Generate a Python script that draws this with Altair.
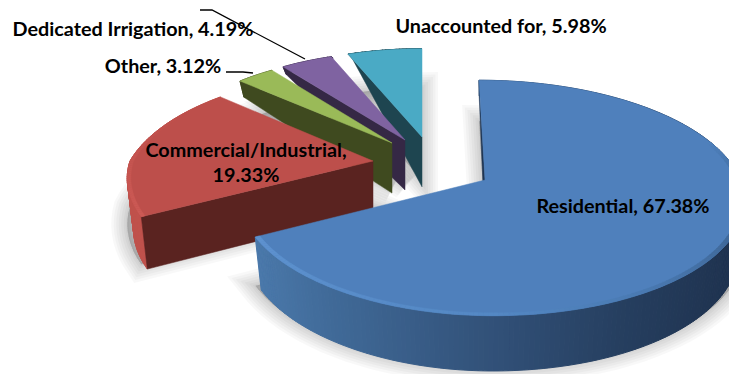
import numpy as np
import pandas as pd
import altair as alt

# Water use by customer class, percent of total
CATEGORIES = ["Residential", "Commercial/Industrial", "Other", "Dedicated Irrigation", "Unaccounted for"]
SHARES = [67.38, 19.33, 3.12, 4.19, 5.98]

TOP_FILL = ["#4f80bc", "#bd4f4b", "#9aba58", "#7f63a1", "#4aaac5"]
CUT_FILL = ["#1f3552", "#5a2320", "#3f4a1f", "#352845", "#1e4550"]
WALL_FILL = ["#2f4d73", "#c0524c", "#3f4a1f", "#352845", "#1e4550"]

# Exploded position of each wedge's point on the canvas, and its relative size
APEX = [(485, 180), (373, 161), (392, 143), (405, 140), (422, 137)]
SIZE = [1.0, 0.98, 0.885, 0.89, 0.885]
# Horizontal stretch left and right of each wedge's point
STRETCH_LEFT = [0.985, 1.0, 1.03, 1.04, 1.05]
STRETCH_RIGHT = [1.03, 1.0, 1.0, 1.0, 1.0]
# Depth foreshortening behind and in front of each wedge's point
DEPTH_BACK = [0.1525, 0.27, 0.1525, 0.1525, 0.1525]
DEPTH_FRONT = [0.1525, 0.15, 0.1525, 0.1525, 0.1525]
# Lean of the large wedge away from the vertical
SHEAR = [6.9, 0.0, 0.0, 0.0, 0.0]

RX, RY = 248.0, 115.0

LABELS = [
    ("Residential, 67.38%", 623, 207),
    ("Commercial/Industrial,\n19.33%", 246, 151),
    ("Other, 3.12%", 163, 67),
    ("Dedicated Irrigation, 4.19%", 133, 30),
    ("Unaccounted for, 5.98%", 501, 27),
]
LEADERS = [
    [(200, 10), (212, 10), (305, 59)],
    [(226, 72), (243, 72), (253, 73)],
]


def hex_mix(pos, stops, colors):
    rgb = np.array([[int(c[i:i + 2], 16) for i in (1, 3, 5)] for c in colors], float)
    vals = [np.interp(pos, stops, rgb[:, j]) for j in range(3)]
    return "#%02x%02x%02x" % tuple(int(round(v)) for v in vals)


def top_point(angle, radius, i):
    a = np.radians(angle)
    X, Y = radius * np.sin(a), -radius * np.cos(a)
    k = DEPTH_BACK[i] if Y < 0 else DEPTH_FRONT[i]
    s = 1.0 / (1.0 - k * Y)
    stretch = STRETCH_LEFT[i] if X < 0 else STRETCH_RIGHT[i]
    ax, ay = APEX[i]
    return ax + RX * SIZE[i] * stretch * X * s + SHEAR[i] * Y * s, ay + RY * SIZE[i] * Y * s


def low_point(pt, apex):
    # The pie's underside: depth fades toward the far side of the scene
    x, y = pt
    h = max(0.0, min(0.6 * (y - 54), 50 + 0.03 * (y - 140)))
    return x + (apex[0] - x) * 0.026, y + h


def feature(coords, fill, stroke=None, width=0.0, fo=1.0, so=1.0):
    ring = [[float(x), float(y)] for x, y in coords]
    ring.append(ring[0])
    return {
        "type": "Feature",
        "geometry": {"type": "Polygon", "coordinates": [ring]},
        "properties": {"fill": fill, "stroke": stroke or fill, "sw": width, "fo": fo, "so": so},
    }


edges = np.concatenate([[0], np.cumsum(SHARES)]) * 3.6
shadow, wedges = [], []

# Soft ground shadow: stacked translucent outlines of each wedge
for i in range(len(SHARES)):
    angs = list(np.arange(edges[i], edges[i + 1], 3.0)) + [edges[i + 1]]
    outline = [APEX[i]] + [top_point(a, 1, i) for a in angs]
    drop = [(x, y + 42 + 0.05 * (y - 100)) for x, y in outline]
    for w in (32, 27, 22, 17, 12, 7, 3):
        shadow.append(feature(drop, "#000000", "#000000", w, 0.028, 0.028))

# Back-to-front so nearer wedges cover farther ones
for i in reversed(range(len(SHARES))):
    apex = APEX[i]
    angs = list(np.arange(edges[i], edges[i + 1], 1.0)) + [edges[i + 1]]
    top = [top_point(a, 1, i) for a in angs]

    # Outer wall, shaded from left to right
    for a0, a1 in zip(angs[:-1], angs[1:]):
        p0, p1 = top_point(a0, 1, i), top_point(a1, 1, i)
        if i == 0:
            col = hex_mix((p0[0] + p1[0]) / 2,
                          [255, 330, 430, 520, 620, 729],
                          ["#4a78aa", "#406a98", "#375a84", "#2f4d73", "#263f60", "#1f3350"])
        else:
            col = WALL_FILL[i]
        wedges.append(feature([p0, p1, low_point(p1, apex), low_point(p0, apex)], col, col, 1.0))

    # Cut face along the wedge's leading edge
    start = top[0]
    wedges.append(feature([apex, start, low_point(start, apex), low_point(apex, apex)],
                          CUT_FILL[i], CUT_FILL[i], 0.5))

    # Top surface
    wedges.append(feature([apex] + top, TOP_FILL[i], TOP_FILL[i], 0.5))

    # Bevel along the visible rim
    for a0, a1 in zip(angs[:-1], angs[1:]):
        mid = (a0 + a1) / 2
        inner = 0.982
        if i == 0:
            if mid < 70:
                continue
            col = hex_mix(mid, [70, 95, 120, 150, 180, 243],
                          ["#4f80bc", "#3f6a9a", "#40699a", "#4a7ab2", "#5488c4", "#5e92cf"])
        elif i == 1:
            if mid > 300:
                continue
            inner = 0.985
            col = hex_mix(mid, [243, 300], ["#cc5a55", "#bd4f4b"])
        else:
            continue
        ring = [top_point(a0, 1, i), top_point(a1, 1, i),
                top_point(a1, inner, i), top_point(a0, inner, i)]
        wedges.append(feature(ring, col, col, 0.4))

projection = alt.Projection(type="identity", scale=1, translate=[0, 0])


def shapes(features):
    return (
        alt.Chart(alt.InlineData(values=features, format=alt.DataFormat(type="json")))
        .mark_geoshape()
        .encode(
            fill=alt.Fill("properties.fill:N", scale=None, legend=None),
            stroke=alt.Stroke("properties.stroke:N", scale=None, legend=None),
            strokeWidth=alt.StrokeWidth("properties.sw:Q", scale=None, legend=None),
            fillOpacity=alt.FillOpacity("properties.fo:Q", scale=None, legend=None),
            strokeOpacity=alt.StrokeOpacity("properties.so:Q", scale=None, legend=None),
        )
        .project(**projection.to_dict())
    )


leader_features = [
    {"type": "Feature", "geometry": {"type": "LineString", "coordinates": [list(p) for p in line]},
     "properties": {}}
    for line in LEADERS
]
leaders = (
    alt.Chart(alt.InlineData(values=leader_features, format=alt.DataFormat(type="json")))
    .mark_geoshape(filled=False, stroke="#000000", strokeWidth=1.3)
    .project(**projection.to_dict())
)

label_df = pd.DataFrame(LABELS, columns=["text", "x", "y"])
labels = (
    alt.Chart(label_df)
    .mark_text(font="Lato", fontWeight="bold", fontSize=19.8, color="#000000",
               align="center", baseline="middle", lineBreak="\n", lineHeight=25)
    .encode(
        x=alt.X("x:Q", scale=None, axis=None),
        y=alt.Y("y:Q", scale=None, axis=None),
        text="text:N",
    )
)

chart = (
    alt.layer(shapes(shadow), shapes(wedges), leaders, labels)
    .properties(width=729, height=374, padding=0, background="#ffffff",
                autosize=alt.AutoSizeParams(type="none"))
    .configure_view(stroke=None)
)

chart.save("out.html", embed_options={"renderer": "svg", "actions": False})
